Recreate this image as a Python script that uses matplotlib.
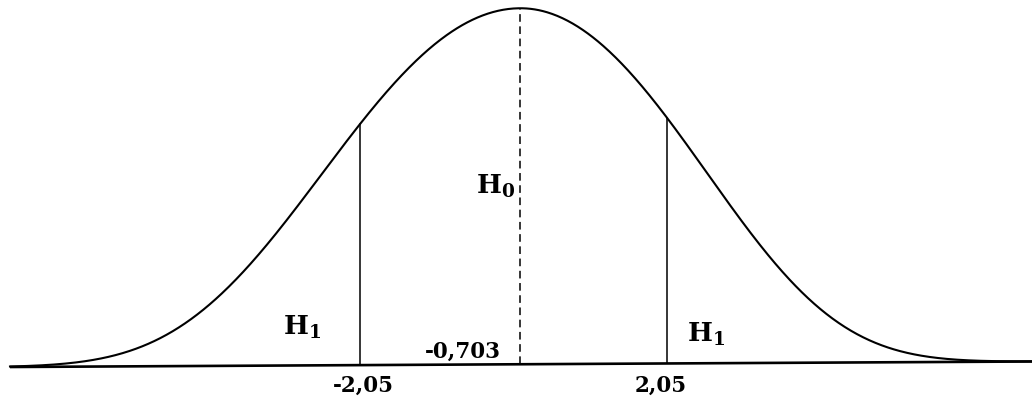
import numpy as np
import matplotlib
matplotlib.use("Agg")
import matplotlib.pyplot as plt

# --- data (drawing units: horizontal position, vertical height) ---
curve_center = 520.0        # position of the mean (H0)
curve_sigma = [188.0, 177.0]  # spread of the bell (left, right)
curve_quart = [392.0, 366.0]  # tail tightening (left, right)
curve_peak = 356.0          # height of the bell
crit_positions = [360.0, 667.0]          # critical value lines
crit_labels = ["-2,05", "2,05"]
stat_label = "-0,703"
h1_label = r"$\mathbf{H_1}$"
h0_label = r"$\mathbf{H_0}$"
x_range = [10.0, 1032.0]
base_y = [367.0, 361.5]                  # slightly tilted baseline (left, right)

plt.rcParams['mathtext.fontset'] = 'dejavuserif'

fig = plt.figure(figsize=(10.32, 4.0), dpi=100)
ax = fig.add_axes([0, 0, 1, 1])
ax.set_xlim(0, 1032)
ax.set_ylim(400, 0)
ax.axis('off')

def baseline(x):
    return np.interp(x, x_range, base_y)

def bell(x):
    x = np.asarray(x, dtype=float)
    d = x - curve_center
    s = np.where(d < 0, curve_sigma[0], curve_sigma[1])
    q = np.where(d < 0, curve_quart[0], curve_quart[1])
    return baseline(x) - curve_peak * np.exp(-0.5 * (d / s) ** 2 - (d / q) ** 4)

xs = np.linspace(x_range[0], x_range[1], 1000)
ys = bell(xs)

ax.plot(x_range, base_y, color='black', lw=1.9, solid_capstyle='butt')
ax.plot(xs, ys, color='black', lw=1.5)

for xc in crit_positions:
    ax.plot([xc, xc], [baseline(xc), float(bell(xc))], color='black', lw=1.1)

ax.plot([curve_center, curve_center], [baseline(curve_center), float(bell(curve_center))],
        color='black', lw=1.1, linestyle=(0, (5, 3)))

font = dict(family='DejaVu Serif', weight='bold', color='black')
ax.text(283, 335, h1_label, fontsize=19, ha='left', va='baseline', **font)
ax.text(687, 342, h1_label, fontsize=19, ha='left', va='baseline', **font)
ax.text(476, 194, h0_label, fontsize=19, ha='left', va='baseline', **font)
ax.text(425, 358, stat_label, fontsize=15.5, ha='left', va='baseline', **font)
ax.text(333, 392, crit_labels[0], fontsize=15.5, ha='left', va='baseline', **font)
ax.text(635, 392, crit_labels[1], fontsize=15.5, ha='left', va='baseline', **font)

fig.savefig("out.png", dpi=100)
